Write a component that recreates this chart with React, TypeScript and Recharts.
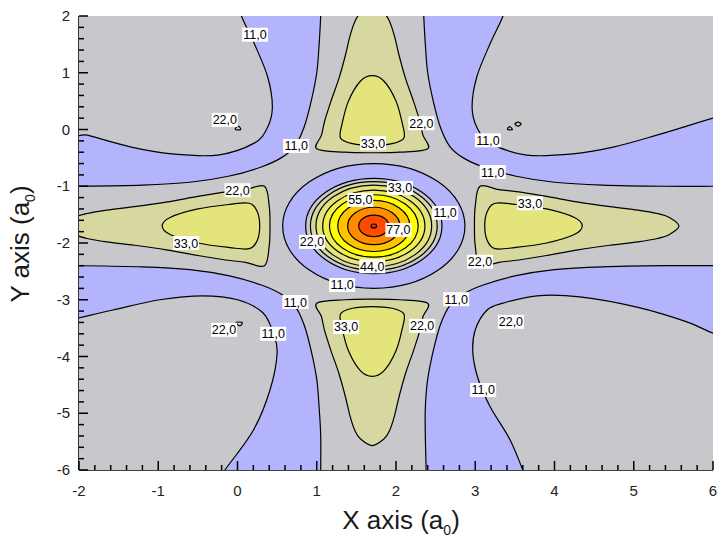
import React from 'react';
import { ScatterChart, Scatter, XAxis, YAxis } from 'recharts';

type Pt = [number, number];

// ---------- axes ----------
const X_TICKS = [-2, -1.8, -1.6, -1.4, -1.2, -1, -0.8, -0.6, -0.4, -0.2, 0, 0.2, 0.4, 0.6, 0.8, 1, 1.2, 1.4, 1.6, 1.8, 2, 2.2, 2.4, 2.6, 2.8, 3, 3.2, 3.4, 3.6, 3.8, 4, 4.2, 4.4, 4.6, 4.8, 5, 5.2, 5.4, 5.6, 5.8, 6];
const Y_TICKS = [-6, -5.8, -5.6, -5.4, -5.2, -5, -4.8, -4.6, -4.4, -4.2, -4, -3.8, -3.6, -3.4, -3.2, -3, -2.8, -2.6, -2.4, -2.2, -2, -1.8, -1.6, -1.4, -1.2, -1, -0.8, -0.6, -0.4, -0.2, 0, 0.2, 0.4, 0.6, 0.8, 1, 1.2, 1.4, 1.6, 1.8, 2];
const X_LABELS = [-2, -1, 0, 1, 2, 3, 4, 5, 6];
const Y_LABELS = [-6, -5, -4, -3, -2, -1, 0, 1, 2];

// ---------- level band colours ----------
const BLUE = '#b4b4fc';
const GRAY = '#c8c8cc';
const KHAKI = '#d7d7a0';
const PALE = '#e4e47c';
const LIGHT_YEL = '#f0f04c';
const YEL = '#ffff00';
const AMBER = '#ffc400';
const ORANGE = '#ff8c00';
const RED = '#ff4a00';
const DEEP = '#ff2a00';

// ---------- plot frame background ----------
const FRAME: Pt[] = [[-3, -7], [7, -7], [7, 3], [-3, 3]];

// ---------- level 11 : boundary of the central cross (blue outside it) ----------
const TL_CROSS: Pt[] = [[-3, 3], [-2.4, -1.0], [-2.0, -1.0], [-1.2, -0.98], [-0.6, -0.93], [-0.1, -0.82], [0.3, -0.66], [0.55, -0.5], [0.72, -0.3], [0.84, 0.04], [0.93, 0.5], [1.0, 1.0], [1.03, 1.5], [1.05, 2.0], [1.06, 2.4]];
const TR_CROSS: Pt[] = [[7, 3], [2.34, 2.4], [2.35, 2.0], [2.37, 1.5], [2.4, 1.0], [2.47, 0.5], [2.56, 0.04], [2.68, -0.3], [2.85, -0.5], [3.1, -0.66], [3.5, -0.82], [4.0, -0.93], [4.6, -0.98], [5.4, -1.0], [6.0, -1.0], [6.4, -1.0]];
const BL_CROSS: Pt[] = [[-3, -7], [-2.4, -2.4], [-2.0, -2.4], [-1.2, -2.42], [-0.6, -2.47], [-0.1, -2.58], [0.3, -2.74], [0.55, -2.9], [0.72, -3.1], [0.84, -3.44], [0.93, -3.9], [1.0, -4.4], [1.03, -4.9], [1.05, -5.4], [1.05, -6.0], [1.05, -6.4]];
const BR_CROSS: Pt[] = [[7, -7], [2.38, -6.4], [2.38, -6.0], [2.37, -5.4], [2.37, -4.9], [2.4, -4.4], [2.47, -3.9], [2.56, -3.44], [2.68, -3.1], [2.85, -2.9], [3.1, -2.74], [3.5, -2.58], [4.0, -2.47], [4.6, -2.42], [5.4, -2.4], [6.0, -2.4], [6.4, -2.4]];

// ---------- level 11 : corner lobes ----------
const TL_LOBE: Pt[] = [[-3, 3], [-0.03, 2.4], [0.05, 2.0], [0.21, 1.52], [0.38, 0.93], [0.44, 0.4], [0.38, 0.04], [0.21, -0.24], [-0.25, -0.45], [-0.83, -0.43], [-1.34, -0.31], [-1.89, -0.1], [-2.4, 0.1]];
const TR_LOBE: Pt[] = [[7, 3], [6.4, 0.35], [6.0, 0.2], [5.29, -0.1], [4.74, -0.31], [4.23, -0.43], [3.65, -0.45], [3.19, -0.24], [3.02, 0.04], [2.96, 0.4], [3.02, 0.93], [3.19, 1.52], [3.35, 2.0], [3.43, 2.4]];
const BL_LOBE: Pt[] = [[-3, -7], [-2.4, -3.45], [-2.0, -3.32], [-1.57, -3.18], [-0.98, -3.0], [-0.44, -2.93], [0.0, -3.0], [0.32, -3.23], [0.45, -3.59], [0.5, -3.94], [0.41, -4.59], [0.2, -5.3], [-0.16, -6.0], [-0.37, -6.4]];
const BR_LOBE: Pt[] = [[7, -7], [3.72, -6.4], [3.6, -6.0], [3.44, -5.47], [3.19, -4.89], [3.04, -4.41], [2.97, -3.94], [3.0, -3.53], [3.15, -3.18], [3.35, -3.06], [3.78, -2.93], [4.32, -2.95], [5.04, -3.13], [5.67, -3.39], [6.0, -3.59], [6.4, -3.78]];

// ---------- level 22 : small islands ----------
const ISLE_TL: Pt[] = [[-0.03, 0.0], [0.04, 0.0], [0.01, 0.06]];
const ISLE_TR_A: Pt[] = [[3.41, 0.0], [3.47, 0.0], [3.43, 0.05]];
const ISLE_TR_B: Pt[] = [[3.5, 0.095], [3.54, 0.13], [3.58, 0.095], [3.54, 0.06]];
const ISLE_BL: Pt[] = [[-0.02, -3.4], [0.06, -3.4], [0.03, -3.46]];
const ISLE_BR: Pt[] = [[3.5, -3.47], [3.535, -3.445], [3.57, -3.47], [3.535, -3.5]];

// ---------- level 22 : the four arms ----------
const ARM_N_22: Pt[] = [[1.7, 2.17], [1.85, 2.05], [1.92, 1.9], [1.98, 1.65], [2.04, 1.3], [2.12, 0.9], [2.22, 0.5], [2.3, 0.15], [2.34, -0.1], [2.4, -0.34], [2.05, -0.4], [1.7, -0.41], [1.35, -0.4], [1.0, -0.34], [1.06, -0.1], [1.1, 0.15], [1.18, 0.5], [1.28, 0.9], [1.36, 1.3], [1.42, 1.65], [1.48, 1.9], [1.55, 2.05]];
const ARM_S_22: Pt[] = [[1.7, -5.57], [1.85, -5.45], [1.92, -5.3], [1.98, -5.05], [2.04, -4.7], [2.12, -4.3], [2.22, -3.9], [2.3, -3.55], [2.34, -3.3], [2.4, -3.06], [2.05, -3.0], [1.7, -2.99], [1.35, -3.0], [1.0, -3.06], [1.06, -3.3], [1.1, -3.55], [1.18, -3.9], [1.28, -4.3], [1.36, -4.7], [1.42, -5.05], [1.48, -5.3], [1.55, -5.45]];
const ARM_W_22: Pt[] = [[-2.17, -1.7], [-2.05, -1.55], [-1.9, -1.48], [-1.65, -1.42], [-1.3, -1.36], [-0.9, -1.28], [-0.5, -1.18], [-0.15, -1.1], [0.1, -1.06], [0.34, -1.0], [0.4, -1.35], [0.41, -1.7], [0.4, -2.05], [0.34, -2.4], [0.1, -2.34], [-0.15, -2.3], [-0.5, -2.22], [-0.9, -2.12], [-1.3, -2.04], [-1.65, -1.98], [-1.9, -1.92], [-2.05, -1.85]];
const ARM_E_22: Pt[] = [[5.57, -1.7], [5.45, -1.55], [5.3, -1.48], [5.05, -1.42], [4.7, -1.36], [4.3, -1.28], [3.9, -1.18], [3.55, -1.1], [3.3, -1.06], [3.06, -1.0], [3.0, -1.35], [2.99, -1.7], [3.0, -2.05], [3.06, -2.4], [3.3, -2.34], [3.55, -2.3], [3.9, -2.22], [4.3, -2.12], [4.7, -2.04], [5.05, -1.98], [5.3, -1.92], [5.45, -1.85]];

// ---------- level 33 : arm cores ----------
const ARM_N_33: Pt[] = [[1.7, 0.95], [1.85, 0.85], [2.0, 0.5], [2.08, 0.1], [2.1, -0.15], [1.95, -0.25], [1.7, -0.28], [1.45, -0.25], [1.3, -0.15], [1.32, 0.1], [1.4, 0.5], [1.55, 0.85]];
const ARM_S_33: Pt[] = [[1.7, -4.35], [1.85, -4.25], [2.0, -3.9], [2.08, -3.5], [2.1, -3.25], [1.95, -3.15], [1.7, -3.12], [1.45, -3.15], [1.3, -3.25], [1.32, -3.5], [1.4, -3.9], [1.55, -4.25]];
const ARM_W_33: Pt[] = [[-0.95, -1.7], [-0.85, -1.55], [-0.5, -1.4], [-0.1, -1.32], [0.15, -1.3], [0.25, -1.45], [0.28, -1.7], [0.25, -1.95], [0.15, -2.1], [-0.1, -2.08], [-0.5, -2.0], [-0.85, -1.85]];
const ARM_E_33: Pt[] = [[4.35, -1.7], [4.25, -1.55], [3.9, -1.4], [3.5, -1.32], [3.25, -1.3], [3.15, -1.45], [3.12, -1.7], [3.15, -1.95], [3.25, -2.1], [3.5, -2.08], [3.9, -2.0], [4.25, -1.85]];

// ---------- central peak: each ring given by its left, top, right, bottom points ----------
const RING_11_OUT: Pt[] = [[0.57, -1.7], [1.72, -0.6], [2.87, -1.7], [1.72, -2.8]];
const RING_11_IN: Pt[] = [[0.86, -1.7], [1.72, -0.86], [2.58, -1.7], [1.72, -2.54]];
const RING_22: Pt[] = [[0.92, -1.7], [1.72, -0.92], [2.52, -1.7], [1.72, -2.48]];
const RING_33: Pt[] = [[0.99, -1.7], [1.72, -0.98], [2.45, -1.7], [1.72, -2.42]];
const RING_44: Pt[] = [[1.075, -1.7], [1.72, -1.07], [2.365, -1.7], [1.72, -2.33]];
const RING_55: Pt[] = [[1.16, -1.7], [1.72, -1.15], [2.28, -1.7], [1.72, -2.25]];
const RING_66: Pt[] = [[1.265, -1.7], [1.72, -1.25], [2.175, -1.7], [1.72, -2.15]];
const RING_77: Pt[] = [[1.39, -1.7], [1.72, -1.37], [2.05, -1.7], [1.72, -2.03]];
const RING_88: Pt[] = [[1.53, -1.7], [1.72, -1.51], [1.91, -1.7], [1.72, -1.89]];
const RING_99: Pt[] = [[1.685, -1.7], [1.72, -1.665], [1.755, -1.7], [1.72, -1.735]];

// ---------- contour labels: x, y, level ----------
const LABELS: [number, number, number][] = [
  [0.22, 1.67, 11], [-0.16, 0.17, 22], [0.74, -0.29, 11], [1.71, -0.24, 33], [2.32, 0.11, 22],
  [3.16, -0.19, 11], [3.22, -0.75, 11], [0.0, -1.07, 22], [2.05, -1.03, 33], [1.55, -1.24, 55],
  [2.62, -1.47, 11], [3.69, -1.3, 33], [0.94, -1.98, 22], [2.03, -1.77, 77], [-0.65, -2.0, 33],
  [1.7, -2.41, 44], [3.06, -2.33, 22], [1.32, -2.74, 11], [0.73, -3.04, 11], [2.76, -2.99, 11],
  [-0.17, -3.53, 22], [0.45, -3.6, 11], [1.37, -3.48, 33], [2.33, -3.46, 22], [3.45, -3.39, 22],
  [3.1, -4.59, 11],
];

type Mode = 'spline' | 'poly' | 'ellipse';
type Layer = { pts: Pt[]; fill: string; mode: Mode; edge?: boolean };

const LAYERS: Layer[] = [
  { pts: FRAME, fill: GRAY, mode: 'poly', edge: false },
  { pts: TL_CROSS, fill: BLUE, mode: 'spline' },
  { pts: TR_CROSS, fill: BLUE, mode: 'spline' },
  { pts: BL_CROSS, fill: BLUE, mode: 'spline' },
  { pts: BR_CROSS, fill: BLUE, mode: 'spline' },
  { pts: TL_LOBE, fill: GRAY, mode: 'spline' },
  { pts: TR_LOBE, fill: GRAY, mode: 'spline' },
  { pts: BL_LOBE, fill: GRAY, mode: 'spline' },
  { pts: BR_LOBE, fill: GRAY, mode: 'spline' },
  { pts: ISLE_TL, fill: KHAKI, mode: 'spline' },
  { pts: ISLE_TR_A, fill: KHAKI, mode: 'spline' },
  { pts: ISLE_TR_B, fill: KHAKI, mode: 'spline' },
  { pts: ISLE_BL, fill: KHAKI, mode: 'spline' },
  { pts: ISLE_BR, fill: KHAKI, mode: 'spline' },
  { pts: ARM_N_22, fill: KHAKI, mode: 'spline' },
  { pts: ARM_S_22, fill: KHAKI, mode: 'spline' },
  { pts: ARM_W_22, fill: KHAKI, mode: 'spline' },
  { pts: ARM_E_22, fill: KHAKI, mode: 'spline' },
  { pts: ARM_N_33, fill: PALE, mode: 'spline' },
  { pts: ARM_S_33, fill: PALE, mode: 'spline' },
  { pts: ARM_W_33, fill: PALE, mode: 'spline' },
  { pts: ARM_E_33, fill: PALE, mode: 'spline' },
  { pts: RING_11_OUT, fill: BLUE, mode: 'ellipse' },
  { pts: RING_11_IN, fill: GRAY, mode: 'ellipse' },
  { pts: RING_22, fill: KHAKI, mode: 'ellipse' },
  { pts: RING_33, fill: PALE, mode: 'ellipse' },
  { pts: RING_44, fill: LIGHT_YEL, mode: 'ellipse' },
  { pts: RING_55, fill: YEL, mode: 'ellipse' },
  { pts: RING_66, fill: AMBER, mode: 'ellipse' },
  { pts: RING_77, fill: ORANGE, mode: 'ellipse' },
  { pts: RING_88, fill: RED, mode: 'ellipse' },
  { pts: RING_99, fill: DEEP, mode: 'ellipse' },
];

const FONT = '"Liberation Sans", Arial, Helvetica, sans-serif';
const LINE_W = 1.2;

type XY = { x: number; y: number };

// closed Catmull-Rom spline through the projected contour points
function closedSpline(p: XY[]): string {
  const n = p.length;
  let d = `M${p[0].x},${p[0].y}`;
  for (let i = 0; i < n; i++) {
    const p0 = p[(i - 1 + n) % n];
    const p1 = p[i];
    const p2 = p[(i + 1) % n];
    const p3 = p[(i + 2) % n];
    const c1x = p1.x + (p2.x - p0.x) / 6;
    const c1y = p1.y + (p2.y - p0.y) / 6;
    const c2x = p2.x - (p3.x - p1.x) / 6;
    const c2y = p2.y - (p3.y - p1.y) / 6;
    d += `C${c1x},${c1y},${c2x},${c2y},${p2.x},${p2.y}`;
  }
  return d + 'Z';
}

function ContourShape({ points, fill, mode, edge }: { points: XY[]; fill: string; mode: Mode; edge: boolean }) {
  if (!points || points.length < 2) return null;
  const stroke = edge ? '#000' : 'none';
  if (mode === 'ellipse') {
    const [l, t, r, b] = points;
    return (
      <ellipse
        cx={(l.x + r.x) / 2}
        cy={(t.y + b.y) / 2}
        rx={Math.abs(r.x - l.x) / 2}
        ry={Math.abs(b.y - t.y) / 2}
        fill={fill}
        stroke={stroke}
        strokeWidth={LINE_W}
      />
    );
  }
  const d = mode === 'poly' ? `M${points.map((q) => `${q.x},${q.y}`).join('L')}Z` : closedSpline(points);
  return <path d={d} fill={fill} stroke={stroke} strokeWidth={LINE_W} strokeLinejoin="round" />;
}

const NoDot = () => <g />;

const LevelTag = (props: any) => {
  const { cx, cy, payload } = props;
  if (cx == null || cy == null) return <g />;
  const text = `${payload.level},0`;
  const w = 26;
  const h = 14;
  return (
    <g>
      <rect x={cx - w / 2} y={cy - h / 2} width={w} height={h} fill="#fff" />
      <text x={cx} y={cy + 4.5} textAnchor="middle" fontSize={12.5} fontFamily={FONT} fill="#000">
        {text}
      </text>
    </g>
  );
};

const isMajor = (list: number[], v: number) => list.some((m) => Math.abs(m - v) < 1e-9);

const TickBottom = (p: any) => {
  const v = p.payload.value;
  const major = isMajor(X_LABELS, v);
  return (
    <g>
      <line x1={p.x} x2={p.x} y1={p.y} y2={p.y - (major ? 9 : 5)} stroke="#000" strokeWidth={1.5} />
      {major && (
        <text x={p.x} y={p.y + 26} textAnchor="middle" fontSize={15} fontFamily={FONT} fill="#222">
          {String(v)}
        </text>
      )}
    </g>
  );
};

const TickTop = (p: any) => {
  const v = p.payload.value;
  const major = isMajor(X_LABELS, v);
  return <line x1={p.x} x2={p.x} y1={p.y} y2={p.y + (major ? 9 : 5)} stroke="#000" strokeWidth={1.5} />;
};

const TickLeft = (p: any) => {
  const v = p.payload.value;
  const major = isMajor(Y_LABELS, v);
  return (
    <g>
      <line x1={p.x} x2={p.x + (major ? 9 : 5)} y1={p.y} y2={p.y} stroke="#000" strokeWidth={1.5} />
      {major && (
        <text x={p.x - 9} y={p.y + 5} textAnchor="end" fontSize={15} fontFamily={FONT} fill="#222">
          {String(v)}
        </text>
      )}
    </g>
  );
};

const TickRight = (p: any) => {
  const v = p.payload.value;
  const major = isMajor(Y_LABELS, v);
  return <line x1={p.x} x2={p.x - (major ? 9 : 5)} y1={p.y} y2={p.y} stroke="#000" strokeWidth={1.5} />;
};

const toXY = (pts: Pt[]) => pts.map(([x, y]) => ({ x, y }));
const labelData = LABELS.map(([x, y, level]) => ({ x, y, level }));

const axisLine = { stroke: '#000', strokeWidth: 1.6 };

const titleStyle: React.CSSProperties = {
  position: 'absolute',
  fontFamily: FONT,
  fontSize: 26,
  color: '#1a1a1a',
  whiteSpace: 'nowrap',
  lineHeight: '28px',
};

export default function App() {
  return (
    <div style={{ position: 'absolute', left: 0, top: 0, width: 719, height: 543, background: '#fff' }}>
      <ScatterChart width={719} height={543} margin={{ top: 16, right: 6, bottom: 0, left: 0 }}>
        {LAYERS.map((layer, i) => (
          <Scatter
            key={`layer-${i}`}
            data={toXY(layer.pts)}
            isAnimationActive={false}
            shape={NoDot}
            legendType="none"
            lineType="joint"
            line={(lp: any) => (
              <ContourShape points={lp.points} fill={layer.fill} mode={layer.mode} edge={layer.edge !== false} />
            )}
          />
        ))}
        <Scatter data={labelData} isAnimationActive={false} shape={LevelTag} legendType="none" />
        <XAxis
          type="number"
          dataKey="x"
          domain={[-2, 6]}
          allowDataOverflow
          ticks={X_TICKS}
          interval={0}
          tick={TickBottom}
          tickLine={false}
          tickSize={0}
          tickMargin={0}
          axisLine={axisLine}
          height={73}
        />
        <XAxis
          xAxisId="top"
          orientation="top"
          type="number"
          domain={[-2, 6]}
          allowDataOverflow
          ticks={X_TICKS}
          interval={0}
          tick={TickTop}
          tickLine={false}
          tickSize={0}
          tickMargin={0}
          axisLine={axisLine}
          height={0}
        />
        <YAxis
          type="number"
          dataKey="y"
          domain={[-6, 2]}
          allowDataOverflow
          ticks={Y_TICKS}
          interval={0}
          tick={TickLeft}
          tickLine={false}
          tickSize={0}
          tickMargin={0}
          axisLine={axisLine}
          width={79}
        />
        <YAxis
          yAxisId="right"
          orientation="right"
          type="number"
          domain={[-6, 2]}
          allowDataOverflow
          ticks={Y_TICKS}
          interval={0}
          tick={TickRight}
          tickLine={false}
          tickSize={0}
          tickMargin={0}
          axisLine={axisLine}
          width={0}
        />
      </ScatterChart>
      <div style={{ ...titleStyle, left: 401, top: 506, transform: 'translateX(-50%)' }}>
        X axis (a<sub style={{ fontSize: 14, verticalAlign: -6 }}>0</sub>)
      </div>
      <div style={{ ...titleStyle, left: 25, top: 244, transform: 'translate(-50%, -50%) rotate(-90deg)' }}>
        Y axis (a<sub style={{ fontSize: 14, verticalAlign: -6 }}>0</sub>)
      </div>
    </div>
  );
}
